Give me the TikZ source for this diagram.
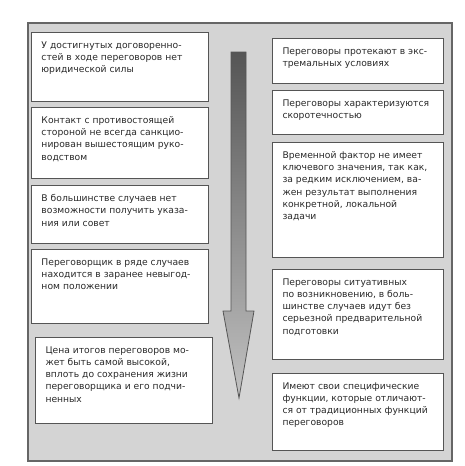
\documentclass[tikz,border=0pt]{standalone}
\usepackage{fontspec}
\setmainfont{DejaVu Sans}
\usepackage{tikz}

\definecolor{panelfill}{HTML}{D4D4D4}
\definecolor{paneldraw}{HTML}{666666}
\definecolor{boxdraw}{HTML}{555555}
\definecolor{txt}{HTML}{2A2A2A}
\definecolor{arrowtop}{HTML}{555555}
\definecolor{arrowbot}{HTML}{C2C2C2}

\newcommand{\cell}[3]{\parbox[t][#2][t]{#1}{\raggedright #3}}

\begin{document}
\begin{tikzpicture}[x=1pt,y=-1pt,
  item/.style={draw=boxdraw, line width=1pt, fill=white, anchor=north west,
    inner xsep=10pt, inner ysep=9pt, text=txt,
    font=\fontsize{9.2}{12.2}\selectfont}]
  \useasboundingbox (0,0) rectangle (464,466);
  \draw[draw=paneldraw, fill=panelfill, line width=1.3pt] (28,23) rectangle (452,461);

  \node[item] (l1) at (31,32) {\cell{157pt}{51pt}{У достигнутых договоренно-\\стей в ходе переговоров нет\\юридической силы}};
  \node[item] (l2) at (31,107) {\cell{157pt}{53pt}{Контакт с противостоящей\\стороной не всегда санкцио-\\нирован вышестоящим руко-\\водством}};
  \node[item] (l3) at (31,185) {\cell{157pt}{40pt}{В большинстве случаев нет\\возможности получить указа-\\ния или совет}};
  \node[item] (l4) at (31,249) {\cell{157pt}{56pt}{Переговорщик в ряде случаев\\находится в заранее невыгод-\\ном положении}};
  \node[item] (l5) at (35,337) {\cell{157pt}{68pt}{Цена итогов переговоров мо-\\жет быть самой высокой,\\вплоть до сохранения жизни\\переговорщика и его подчи-\\ненных}};

  \node[item] (r1) at (272,38) {\cell{151pt}{27pt}{Переговоры протекают в экс-\\тремальных условиях}};
  \node[item] (r2) at (272,90) {\cell{151pt}{26pt}{Переговоры характеризуются\\скоротечностью}};
  \node[item] (r3) at (272,142) {\cell{151pt}{97pt}{Временной фактор не имеет\\ключевого значения, так как,\\за редким исключением, ва-\\жен результат выполнения\\конкретной, локальной\\задачи}};
  \node[item] (r4) at (272,269) {\cell{151pt}{72pt}{Переговоры ситуативных\\по возникновению, в боль-\\шинстве случаев идут без\\серьезной предварительной\\подготовки}};
  \node[item] (r5) at (272,373) {\cell{151pt}{59pt}{Имеют свои специфические\\функции, которые отличают-\\ся от традиционных функций\\переговоров}};

  \draw[draw=boxdraw, line width=0.8pt, top color=arrowtop, bottom color=arrowbot]
    (231,52) -- (246,52) -- (246,311) -- (254,311) -- (239,398)
    -- (223,311) -- (231,311) -- cycle;
\end{tikzpicture}
\end{document}
